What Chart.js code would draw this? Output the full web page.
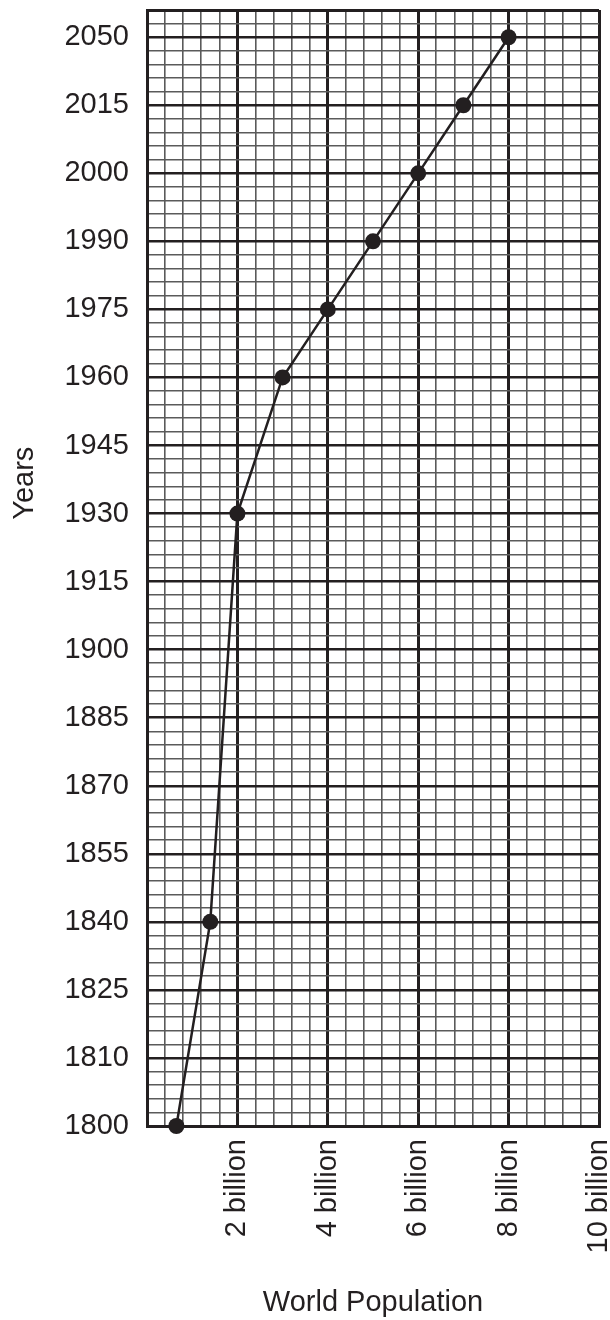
<!DOCTYPE html>
<html>
<head>
<meta charset="utf-8">
<script src="https://cdn.jsdelivr.net/npm/chart.js@4/dist/chart.umd.min.js"></script>
<style>
  html, body { margin: 0; padding: 0; background: #fff; }
  canvas { display: block; }
</style>
</head>
<body>
<canvas id="populationChart" width="610" height="1320"></canvas>
<script>
// year labels down the side, evenly spaced (not to scale)
const yearLabels = ['1800', '1810', '1825', '1840', '1855', '1870', '1885', '1900', '1915',
                    '1930', '1945', '1960', '1975', '1990', '2000', '2015', '2050'];
// plotted points
const pointYears = ['1800', '1840', '1930', '1960', '1975', '1990', '2000', '2015', '2050'];
const populationBillions = [0.65, 1.4, 2, 3, 4, 5, 6, 7, 8];
// labelled population ticks
const populationTicks = [2, 4, 6, 8, 10];

const ink = '#231f20';
const minorInk = '#5a5a5a';
const fontFamily = "'Liberation Sans', Arial, Helvetica, sans-serif";

function isWhole(v) {
    return Math.abs(v - Math.round(v)) < 1e-6;
}

const points = pointYears.map(function(year, i) {
    return { x: populationBillions[i], y: yearLabels.indexOf(year) };
});

const yMax = yearLabels.length - 1 + 0.4;

// draws the rotated "Years" label, sitting above the middle like the original
const yearsLabel = {
    id: 'yearsLabel',
    afterDraw: function(chart) {
        const ctx = chart.ctx;
        const area = chart.chartArea;
        ctx.save();
        ctx.translate(25, area.top + (area.bottom - area.top) * 0.424);
        ctx.rotate(-Math.PI / 2);
        ctx.font = '29px ' + fontFamily;
        ctx.fillStyle = ink;
        ctx.textAlign = 'center';
        ctx.textBaseline = 'middle';
        ctx.fillText('Years', 0, 0);
        ctx.restore();
    }
};

const ctx = document.getElementById('populationChart').getContext('2d');
new Chart(ctx, {
    type: 'scatter',
    data: {
        datasets: [{
            data: points,
            showLine: true,
            borderColor: ink,
            borderWidth: 2.5,
            pointRadius: 8,
            pointBackgroundColor: ink,
            pointBorderColor: ink,
            pointBorderWidth: 0,
            tension: 0,
            clip: false
        }]
    },
    options: {
        responsive: false,
        animation: false,
        layout: { padding: { top: 10, right: 11, bottom: 0, left: 0 } },
        scales: {
            x: {
                type: 'linear',
                min: 0,
                max: 10,
                afterFit: function(scale) {
                    scale.height = 194;
                    scale.paddingLeft = 0;
                    scale.paddingRight = 0;
                },
                border: { display: true, color: ink, width: 3 },
                grid: {
                    drawTicks: false,
                    color: function(c) {
                        const v = c.tick ? c.tick.value : 0;
                        return isWhole(v / 2) ? ink : minorInk;
                    },
                    lineWidth: function(c) {
                        const v = c.tick ? c.tick.value : 0;
                        return isWhole(v / 2) ? 3 : 1.6;
                    }
                },
                ticks: {
                    stepSize: 0.4,
                    autoSkip: false,
                    minRotation: 90,
                    maxRotation: 90,
                    padding: 13,
                    color: ink,
                    font: { size: 29, family: fontFamily },
                    callback: function(value) {
                        const hit = populationTicks.find(function(t) { return Math.abs(t - value) < 1e-6; });
                        return hit !== undefined ? hit + ' billion' : '';
                    }
                },
                title: {
                    display: true,
                    text: 'World Population',
                    color: ink,
                    font: { size: 29, family: fontFamily },
                    padding: { top: 0, bottom: 0 }
                }
            },
            y: {
                type: 'linear',
                min: 0,
                max: yMax,
                afterFit: function(scale) {
                    scale.width = 147;
                    scale.paddingTop = 0;
                    scale.paddingBottom = 0;
                },
                border: { display: true, color: ink, width: 3 },
                grid: {
                    drawTicks: false,
                    color: function(c) {
                        const v = c.tick ? c.tick.value : 0;
                        return (isWhole(v) || Math.abs(v - yMax) < 1e-6) ? ink : minorInk;
                    },
                    lineWidth: function(c) {
                        const v = c.tick ? c.tick.value : 0;
                        if (Math.abs(v - yMax) < 1e-6) return 3;
                        return isWhole(v) ? 2.5 : 1.6;
                    }
                },
                ticks: {
                    stepSize: 0.2,
                    autoSkip: false,
                    padding: 18,
                    color: ink,
                    font: { size: 29, family: fontFamily },
                    callback: function(value) {
                        if (!isWhole(value)) return '';
                        return yearLabels[Math.round(value)] || '';
                    }
                }
            }
        },
        plugins: {
            legend: { display: false },
            tooltip: { enabled: false }
        }
    },
    plugins: [yearsLabel]
});
</script>
</body>
</html>
